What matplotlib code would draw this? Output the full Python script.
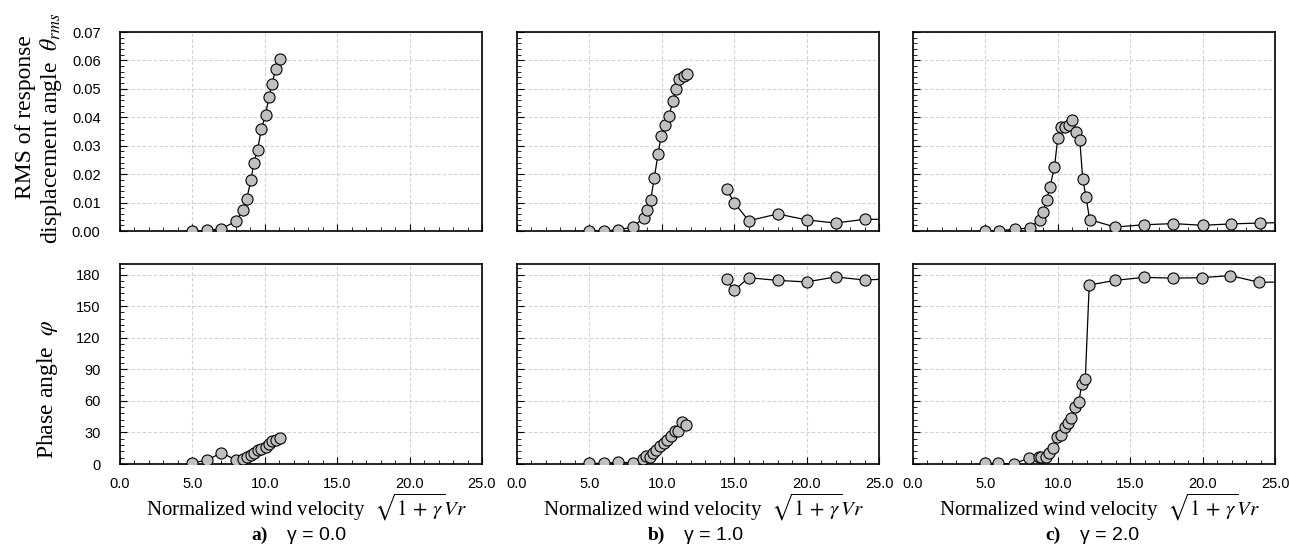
import matplotlib.pyplot as plt
from matplotlib.ticker import MultipleLocator, FormatStrFormatter

# ---- data ----
# gamma = 0.0
a_x = [5.0, 6.0, 7.0, 8.0, 8.5, 8.75, 9.05, 9.24, 9.5, 9.77, 10.05, 10.28, 10.5, 10.76, 11.04]
a_rms = [0.0, 0.0002, 0.0008, 0.0034, 0.0075, 0.0113, 0.018, 0.024, 0.0286, 0.036,
         0.0408, 0.047, 0.0518, 0.057, 0.0605]
a_phase = [1.3, 3.5, 10.8, 3.8, 4.8, 6.7, 8.9, 10.8, 13.0, 14.0, 16.0, 19.0, 21.6, 23.0, 24.4]

# gamma = 1.0 (two branches)
b_x1 = [5.0, 6.0, 7.0, 8.0, 8.75, 9.0, 9.24, 9.47, 9.75, 9.95, 10.25, 10.5, 10.76,
        10.97, 11.2, 11.5, 11.75]
b_rms1 = [0.0, 0.0, 0.0004, 0.0014, 0.0046, 0.0074, 0.011, 0.0185, 0.0272, 0.0333,
          0.0373, 0.0406, 0.0457, 0.0498, 0.0534, 0.0544, 0.0554]
b_phx1 = [5.0, 6.0, 7.0, 8.0, 8.7, 8.9, 9.17, 9.37, 9.63, 9.88, 10.14, 10.37, 10.65,
          10.88, 11.15, 11.38, 11.68]
b_phase1 = [0.6, 0.6, 1.6, 1.3, 5.0, 7.7, 6.7, 10.8, 13.7, 16.9, 20.0, 23.0, 26.5,
            31.5, 31.0, 40.0, 36.6]
b_x2 = [14.47, 15.0, 16.0, 18.0, 20.0, 22.0, 24.0, 26.0]
b_rms2 = [0.0148, 0.010, 0.0036, 0.006, 0.0039, 0.0028, 0.0041, 0.0041]
b_phase2 = [175.4, 165.0, 177.0, 174.4, 173.0, 177.7, 174.8, 176.0]

# gamma = 2.0
c_x = [5.0, 5.94, 7.06, 8.05, 8.76, 8.97, 9.24, 9.45, 9.77, 10.0, 10.25, 10.53, 10.78,
       10.97, 11.26, 11.52, 11.72, 11.95, 12.2, 13.95, 15.98, 17.98, 20.0, 21.98, 23.95, 26.0]
c_rms = [0.0, 0.0001, 0.0006, 0.0011, 0.004, 0.0068, 0.011, 0.0154, 0.0225, 0.0328,
         0.0366, 0.0366, 0.0374, 0.0392, 0.0347, 0.0319, 0.0184, 0.0119, 0.004, 0.0014,
         0.0022, 0.0026, 0.002, 0.0025, 0.0028, 0.0030]
c_phx = [5.0, 5.9, 7.0, 8.0, 8.7, 8.87, 9.2, 9.4, 9.7, 9.93, 10.23, 10.5, 10.7, 10.9,
         11.22, 11.45, 11.66, 11.9, 12.17, 13.92, 15.95, 17.95, 19.95, 21.9, 23.92, 26.0]
c_phase = [0.6, 0.6, 0.0, 6.0, 6.4, 6.4, 6.7, 10.8, 15.0, 25.5, 28.0, 35.0, 38.7, 43.5,
           54.0, 59.0, 76.0, 81.0, 170.0, 174.4, 177.3, 176.6, 177.0, 179.0, 172.6, 173.0]

captions = ["a)", "b)", "c)"]
gammas = ["0.0", "1.0", "2.0"]

serif = "Liberation Serif"
sans = "Liberation Sans"
plt.rcParams["font.family"] = sans
plt.rcParams["mathtext.fontset"] = "stix"

fig = plt.figure(figsize=(12.89, 5.45), dpi=100)
lefts = [120, 517, 913]
W, H = 1289, 545


def style(ax, top, show_y):
    ax.set_xlim(0, 25)
    ax.xaxis.set_major_locator(MultipleLocator(5))
    ax.xaxis.set_minor_locator(MultipleLocator(1))
    ax.xaxis.set_major_formatter(FormatStrFormatter("%.1f"))
    if top:
        ax.set_ylim(0, 0.07)
        ax.yaxis.set_major_locator(MultipleLocator(0.01))
        ax.yaxis.set_minor_locator(MultipleLocator(0.002))
        ax.yaxis.set_major_formatter(FormatStrFormatter("%.2f"))
        ax.tick_params(axis="x", labelbottom=False)
    else:
        ax.set_ylim(0, 190)
        ax.yaxis.set_major_locator(MultipleLocator(30))
        ax.yaxis.set_minor_locator(MultipleLocator(6))
    ax.tick_params(which="both", direction="in", top=False, right=False,
                   labelsize=10.5, color="black")
    ax.tick_params(which="major", length=5, width=0.8)
    ax.tick_params(which="minor", length=3, width=0.6)
    ax.tick_params(axis="y", which="major", pad=14, labelleft=show_y)
    ax.tick_params(axis="x", which="major", pad=9)
    ax.grid(True, which="major", linestyle=(0, (3, 2)), color="#d2d2d2", linewidth=0.8)
    ax.set_axisbelow(True)
    for s in ax.spines.values():
        s.set_linewidth(1.2)


def draw(ax, x, y):
    ax.plot(x, y, color="black", linewidth=0.9, marker="o", markersize=8,
            markerfacecolor="#c0c0c0", markeredgecolor="black", markeredgewidth=0.8,
            clip_on=True, zorder=3)


top_axes = []
bot_axes = []
for i, l in enumerate(lefts):
    ax_t = fig.add_axes([l / W, 1 - 231 / H, 362 / W, 199 / H])
    ax_b = fig.add_axes([l / W, 1 - 464 / H, 362 / W, 200 / H])
    style(ax_t, True, i == 0)
    style(ax_b, False, i == 0)
    top_axes.append(ax_t)
    bot_axes.append(ax_b)

# panel a
draw(top_axes[0], a_x, a_rms)
draw(bot_axes[0], a_x, a_phase)
# panel b
draw(top_axes[1], b_x1, b_rms1)
draw(top_axes[1], b_x2, b_rms2)
draw(bot_axes[1], b_phx1, b_phase1)
draw(bot_axes[1], b_x2, b_phase2)
# panel c
draw(top_axes[2], c_x, c_rms)
draw(bot_axes[2], c_phx, c_phase)

# y labels
fig.text(26 / W, 1 - 117 / H, "RMS of response", rotation=90, ha="center", va="center",
         fontsize=17, family=serif)
fig.text(51 / W, 1 - 128 / H, r"displacement angle  $\theta_{rms}$", rotation=90,
         ha="center", va="center", fontsize=17, family=serif)
fig.text(48 / W, 1 - 389 / H, r"Phase angle  $\varphi$", rotation=90, ha="center",
         va="center", fontsize=17, family=serif)

# x labels and captions
for i, l in enumerate(lefts):
    fig.text((l + 186) / W, 1 - 507 / H,
             r"Normalized wind velocity  $\sqrt{1\,+\,\gamma}Vr$",
             ha="center", va="center", fontsize=15, family=serif)
    fig.text((l + 148) / W, 1 - 535 / H, captions[i], ha="right", va="center",
             fontsize=14, family=serif, fontweight="bold")
    fig.text((l + 167) / W, 1 - 535 / H, "\u03b3 = " + gammas[i], ha="left",
             va="center", fontsize=14, family=sans)

fig.savefig("out.png", dpi=100)
